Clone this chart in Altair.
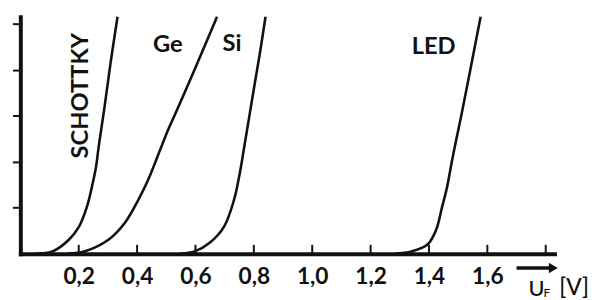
import altair as alt
import pandas as pd

# ---- data ----
schottky_x = [0.049, 0.110, 0.167, 0.201, 0.228, 0.245, 0.259, 0.269, 0.289, 0.309, 0.333]
schottky_y = [0.0, 0.05, 0.31, 0.59, 1.02, 1.45, 1.88, 2.36, 3.22, 4.15, 5.16]
ge_x = [0.16, 0.224, 0.303, 0.359, 0.404, 0.438, 0.472, 0.505, 0.539, 0.607, 0.674]
ge_y = [0.0, 0.06, 0.31, 0.68, 1.17, 1.61, 2.15, 2.68, 3.16, 4.16, 5.16]
si_x = [0.549, 0.597, 0.651, 0.698, 0.732, 0.752, 0.769, 0.786, 0.803, 0.820, 0.840]
si_y = [0.0, 0.05, 0.25, 0.59, 1.17, 1.76, 2.40, 3.05, 3.70, 4.34, 5.16]
led_x = [1.283, 1.340, 1.395, 1.425, 1.445, 1.462, 1.479, 1.495, 1.512, 1.540, 1.577]
led_y = [0.0, 0.05, 0.20, 0.53, 1.02, 1.45, 2.03, 2.53, 3.05, 3.95, 5.16]

x_label_values = [0.2, 0.4, 0.6, 0.8, 1.0, 1.2, 1.4, 1.6]
x_tick_values = [0.2, 0.4, 0.6, 0.8, 1.0, 1.2, 1.4, 1.6, 1.8]
y_tick_values = [1, 2, 3, 4, 5]

label_text = ["Ge", "Si", "LED"]
label_x = [0.505, 0.725, 1.416]
label_y = [4.54, 4.57, 4.49]

rows = []
for name, xs_, ys_ in [("SCHOTTKY", schottky_x, schottky_y), ("Ge", ge_x, ge_y),
                       ("Si", si_x, si_y), ("LED", led_x, led_y)]:
    for i, (a, b) in enumerate(zip(xs_, ys_)):
        rows.append({"series": name, "x": a, "y": b, "i": i})
df = pd.DataFrame(rows)

W, H = 541, 240
xs = alt.Scale(domain=[0, 1.83], nice=False, zero=False)
ys = alt.Scale(domain=[0, 5.16], nice=False, zero=False)
FONT = "Lato"
INK = "#111111"

bottom_axis = alt.Axis(values=x_label_values, ticks=False, domainWidth=4, domainColor=INK,
                       domainCap="square", grid=False, title=None,
                       labelExpr="replace(format(datum.value, '.1f'), '.', ',')",
                       labelFont=FONT, labelFontSize=23, labelFontWeight="bold",
                       labelColor=INK, labelPadding=12, labelFlush=False, labelOverlap=False)
left_axis = alt.Axis(values=y_tick_values, labels=False, tickSize=8, tickWidth=2, tickColor=INK,
                     domainWidth=4, domainColor=INK, domainCap="square", grid=False, title=None)


def X(field):
    return alt.X(field, scale=xs, axis=bottom_axis)


def Y(field):
    return alt.Y(field, scale=ys, axis=left_axis)


lines = alt.Chart(df).mark_line(color=INK, strokeWidth=2.6, interpolate="catmull-rom").encode(
    x=X("x:Q"), y=Y("y:Q"), detail="series:N", order="i:Q",
)

# x-axis ticks point up into the plot, as in the reference
ticks = alt.Chart(pd.DataFrame({"v": x_tick_values})).mark_rule(color=INK, strokeWidth=2).encode(
    x=X("v:Q"), y=alt.value(H), y2=alt.value(H - 9),
)

labels = alt.Chart(pd.DataFrame({"t": label_text, "x": label_x, "y": label_y})).mark_text(
    font=FONT, fontSize=24, fontWeight="bold", color=INK, align="center", baseline="middle"
).encode(x=X("x:Q"), y=Y("y:Q"), text="t:N")

schottky_label = alt.Chart(pd.DataFrame({"t": ["SCHOTTKY"], "x": [0.208], "y": [3.44]})).mark_text(
    font=FONT, fontSize=24, fontWeight="bold", color=INK, align="center", baseline="middle", angle=270
).encode(x=X("x:Q"), y=Y("y:Q"), text="t:N")

arrow_line = alt.Chart(pd.DataFrame({"x": [1.700], "x2": [1.822], "y": [-0.31]})).mark_rule(
    color=INK, strokeWidth=3.5
).encode(x=X("x:Q"), x2="x2:Q", y=Y("y:Q"))

arrow_head = alt.Chart(pd.DataFrame({"x": [1.826], "y": [-0.31]})).mark_point(
    shape="triangle-right", filled=True, color=INK, size=110, opacity=1
).encode(x=X("x:Q"), y=Y("y:Q"))

unit_text = ["U", "F", "[V]"]
unit_x = [1.741, 1.792, 1.846]
unit_y = [-0.91, -0.94, -0.89]
unit_size = [22, 12, 23]
unit_df = pd.DataFrame({"t": unit_text, "x": unit_x, "y": unit_y, "s": unit_size})
units = alt.Chart(unit_df).mark_text(
    font=FONT, color=INK, align="left", baseline="alphabetic", fontWeight=500
).encode(x=X("x:Q"), y=Y("y:Q"), text="t:N",
         size=alt.Size("s:Q", scale=None, legend=None))

chart = alt.layer(lines, ticks, labels, schottky_label, arrow_line, arrow_head, units).properties(
    width=W, height=H,
    autosize=alt.AutoSizeParams(type="none"),
    padding={"left": 12.5, "top": 7, "right": 38, "bottom": 44},
    background="white",
).configure_view(stroke=None)

chart.save("out.html", embed_options={"renderer": "svg", "actions": False})
